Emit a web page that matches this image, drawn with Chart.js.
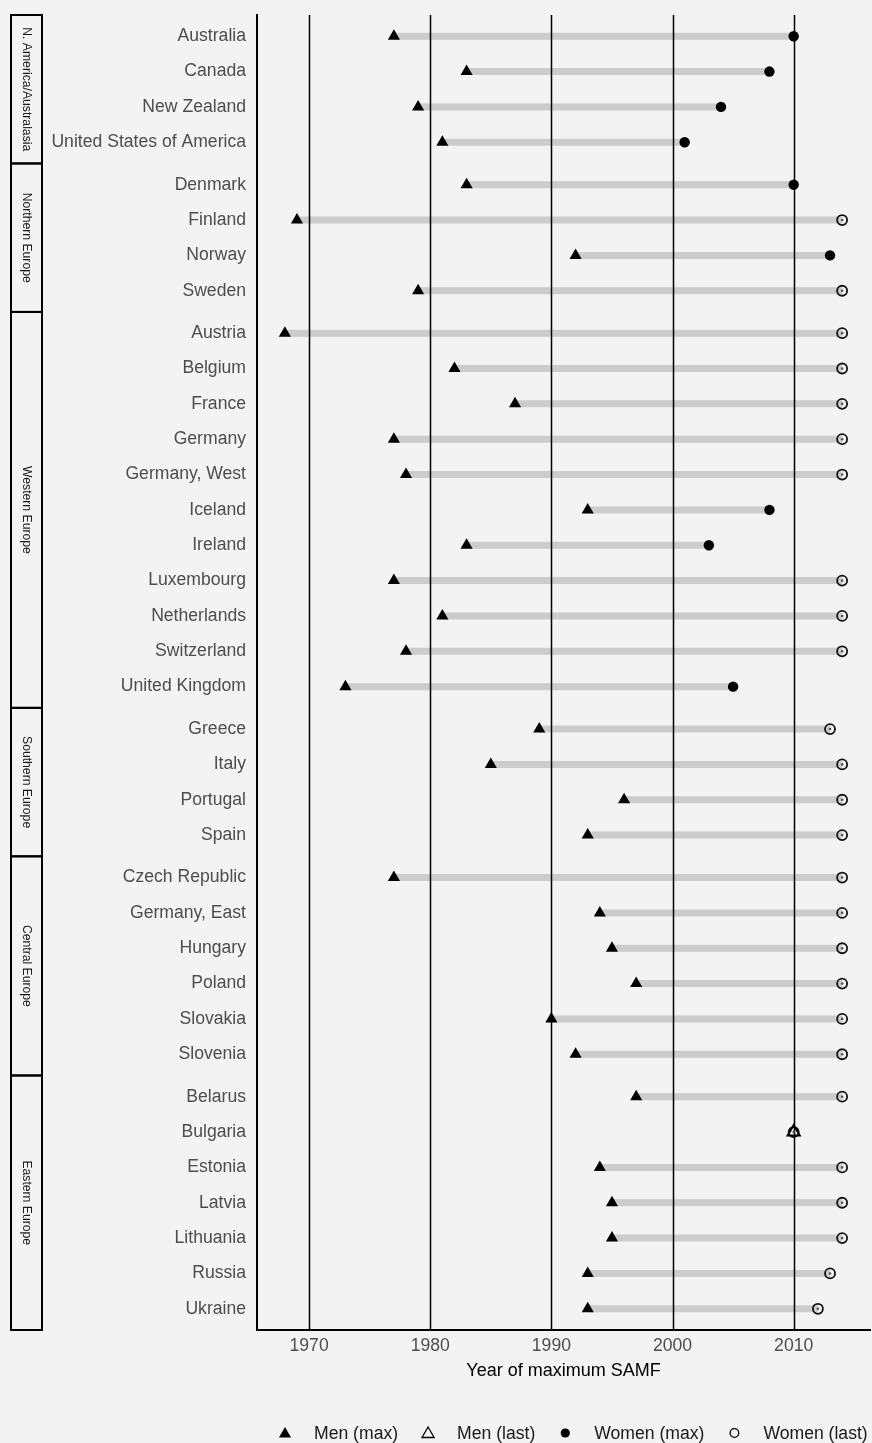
<!DOCTYPE html>
<html>
<head>
<meta charset="utf-8">
<title>Year of maximum SAMF</title>
<script src="https://cdn.jsdelivr.net/npm/chart.js@4.4.0/dist/chart.umd.min.js"></script>
<style>
  html, body { margin: 0; padding: 0; background: #f3f3f3; }
  #wrap { width: 872px; height: 1443px; }
</style>
</head>
<body>
<div id="wrap"><canvas id="samfChart" width="872" height="1443"></canvas></div>
<script>
// Regions and how many countries each one holds (in order)
const regions = ['N. America/Australasia', 'Northern Europe', 'Western Europe', 'Southern Europe', 'Central Europe', 'Eastern Europe'];
const regionSizes = [4, 4, 11, 4, 6, 7];

const countries = [
  'Australia', 'Canada', 'New Zealand', 'United States of America',
  'Denmark', 'Finland', 'Norway', 'Sweden',
  'Austria', 'Belgium', 'France', 'Germany', 'Germany, West', 'Iceland', 'Ireland',
  'Luxembourg', 'Netherlands', 'Switzerland', 'United Kingdom',
  'Greece', 'Italy', 'Portugal', 'Spain',
  'Czech Republic', 'Germany, East', 'Hungary', 'Poland', 'Slovakia', 'Slovenia',
  'Belarus', 'Bulgaria', 'Estonia', 'Latvia', 'Lithuania', 'Russia', 'Ukraine'
];

// Year values per country (null = not applicable)
const menMax = [
  1977, 1983, 1979, 1981,
  1983, 1969, 1992, 1979,
  1968, 1982, 1987, 1977, 1978, 1993, 1983, 1977, 1981, 1978, 1973,
  1989, 1985, 1996, 1993,
  1977, 1994, 1995, 1997, 1990, 1992,
  1997, null, 1994, 1995, 1995, 1993, 1993
];
const menLast = [
  null, null, null, null,
  null, null, null, null,
  null, null, null, null, null, null, null, null, null, null, null,
  null, null, null, null,
  null, null, null, null, null, null,
  null, 2010, null, null, null, null, null
];
const womenMax = [
  2010, 2008, 2004, 2001,
  2010, null, 2013, null,
  null, null, null, null, null, 2008, 2003, null, null, null, 2005,
  null, null, null, null,
  null, null, null, null, null, null,
  null, null, null, null, null, null, null
];
const womenLast = [
  null, null, null, null,
  null, 2014, null, 2014,
  2014, 2014, 2014, 2014, 2014, null, null, 2014, 2014, 2014, null,
  2013, 2014, 2014, 2014,
  2014, 2014, 2014, 2014, 2014, 2014,
  2014, 2010, 2014, 2014, 2014, 2013, 2012
];

const tickYears = [1970, 1980, 1990, 2000, 2010];

// Row positions: one unit per country, 0.6 units of padding at each region edge
const rowY = [];
const regionBounds = [];
let cursor = 0;
regionSizes.forEach(n => {
  for (let i = 0; i < n; i++) rowY.push(cursor + 0.6 + i);
  regionBounds.push([cursor, cursor + n + 0.2]);
  cursor += n + 0.2;
});
const yMax = cursor;

const FONT = "'Liberation Sans', Arial, sans-serif";

function toPoints(values) {
  return values
    .map((v, i) => (v == null ? null : { x: v, y: rowY[i] }))
    .filter(Boolean);
}

// Grey connector from the men's year to the women's year
const segData = [];
countries.forEach((c, i) => {
  const from = menMax[i] ?? menLast[i];
  const to = womenMax[i] ?? womenLast[i];
  if (from == null || to == null) return;
  segData.push({ x: from, y: rowY[i] }, { x: to, y: rowY[i] }, { x: null, y: null });
});

const datasets = [
  { label: 'Men (max)', data: toPoints(menMax), pointStyle: 'triangle', pointRadius: 7,
    backgroundColor: '#000', borderWidth: 0 },
  { label: 'Men (last)', data: toPoints(menLast), pointStyle: 'triangle', pointRadius: 7,
    backgroundColor: 'rgba(0,0,0,0)', borderColor: '#000', borderWidth: 2 },
  { label: 'Women (max)', data: toPoints(womenMax), pointStyle: 'circle', pointRadius: 5.2,
    backgroundColor: '#000', borderWidth: 0 },
  { label: 'Women (last)', data: toPoints(womenLast), pointStyle: 'circle', pointRadius: 5,
    backgroundColor: 'rgba(0,0,0,0)', borderColor: '#111', borderWidth: 1.8 },
  { label: 'centre', data: toPoints(womenLast), pointStyle: 'circle', pointRadius: 1.3,
    backgroundColor: '#555', borderWidth: 0 },
  { label: 'segments', data: segData, showLine: true, spanGaps: false, pointRadius: 0,
    borderColor: '#cccccc', borderWidth: 7, borderCapStyle: 'butt' }
];
const SEG_INDEX = datasets.length - 1;

// Vertical reference lines sit above the grey bars but below the markers
const yearLines = {
  id: 'yearLines',
  afterDatasetDraw(chart, args) {
    if (args.index !== SEG_INDEX) return;
    const { ctx, chartArea, scales } = chart;
    ctx.save();
    ctx.strokeStyle = '#000';
    ctx.lineWidth = 1.5;
    scales.x.ticks.forEach(t => {
      const px = Math.round(scales.x.getPixelForValue(t.value)) + 0.5;
      ctx.beginPath();
      ctx.moveTo(px, chartArea.top);
      ctx.lineTo(px, chartArea.bottom);
      ctx.stroke();
    });
    ctx.restore();
  }
};

// Region strips on the far left
const regionStrips = {
  id: 'regionStrips',
  afterDraw(chart) {
    const { ctx, scales } = chart;
    ctx.save();
    regions.forEach((name, r) => {
      const top = scales.y.getPixelForValue(regionBounds[r][0]);
      const bottom = scales.y.getPixelForValue(regionBounds[r][1]);
      ctx.strokeStyle = '#000';
      ctx.lineWidth = 2;
      ctx.strokeRect(11, top, 31, bottom - top);
      ctx.translate(26, (top + bottom) / 2);
      ctx.rotate(Math.PI / 2);
      ctx.fillStyle = '#1a1a1a';
      ctx.font = '12.2px ' + FONT;
      ctx.textAlign = 'center';
      ctx.textBaseline = 'middle';
      ctx.fillText(name, 0, 0);
      ctx.setTransform(1, 0, 0, 1, 0, 0);
    });
    ctx.restore();
  }
};

function drawMarker(ctx, style, x, y, r, filled, lw) {
  ctx.beginPath();
  if (style === 'triangle') {
    ctx.moveTo(x, y - r);
    ctx.lineTo(x + r * Math.sin(Math.PI / 3), y + r / 2);
    ctx.lineTo(x - r * Math.sin(Math.PI / 3), y + r / 2);
    ctx.closePath();
  } else {
    ctx.arc(x, y, r, 0, Math.PI * 2);
  }
  if (filled) {
    ctx.fillStyle = '#000';
    ctx.fill();
  } else {
    ctx.strokeStyle = '#000';
    ctx.lineWidth = lw;
    ctx.stroke();
  }
}

// Legend row under the x-axis title
const bottomLegend = {
  id: 'bottomLegend',
  afterDraw(chart) {
    const { ctx, chartArea } = chart;
    const items = [
      { text: datasets[0].label, style: 'triangle', r: 7, filled: true },
      { text: datasets[1].label, style: 'triangle', r: 7, filled: false },
      { text: datasets[2].label, style: 'circle', r: 4.6, filled: true },
      { text: datasets[3].label, style: 'circle', r: 4.3, filled: false }
    ];
    ctx.save();
    ctx.font = '17.6px ' + FONT;
    ctx.textBaseline = 'middle';
    ctx.textAlign = 'left';
    let x = chartArea.left + 28;
    const y = 1433;
    items.forEach(it => {
      drawMarker(ctx, it.style, x, it.style === 'triangle' ? y + 1 : y, it.r, it.filled, 1.3);
      ctx.fillStyle = '#1a1a1a';
      ctx.fillText(it.text, x + 29, y + 1);
      x += 29 + ctx.measureText(it.text).width + 30;
    });
    ctx.restore();
  }
};

new Chart(document.getElementById('samfChart'), {
  type: 'scatter',
  data: { datasets },
  options: {
    responsive: false,
    animation: false,
    events: [],
    layout: { autoPadding: false, padding: { top: 15, right: 2, left: 0, bottom: 0 } },
    plugins: {
      legend: { display: false },
      tooltip: { enabled: false }
    },
    scales: {
      x: {
        type: 'linear',
        min: 1965.7,
        max: 2016.3,
        afterBuildTicks: scale => { scale.ticks = tickYears.map(v => ({ value: v })); },
        afterFit: scale => {
          scale.height = 113;
          scale.paddingLeft = 0;
          scale.paddingRight = 0;
        },
        grid: { display: false, drawTicks: false },
        border: { display: true, color: '#000', width: 2 },
        ticks: {
          padding: 6,
          color: '#4d4d4d',
          font: { family: FONT, size: 17.6 },
          callback: v => String(v)
        },
        title: {
          display: true,
          text: 'Year of maximum SAMF',
          color: '#000',
          font: { family: FONT, size: 18 },
          padding: { top: 4, bottom: 61 }
        }
      },
      y: {
        type: 'linear',
        reverse: true,
        min: 0,
        max: yMax,
        afterBuildTicks: scale => { scale.ticks = rowY.map(v => ({ value: v })); },
        afterFit: scale => {
          scale.width = 257;
          scale.paddingTop = 0;
          scale.paddingBottom = 0;
        },
        grid: { display: false, drawTicks: false },
        border: { display: true, color: '#000', width: 2 },
        ticks: {
          autoSkip: false,
          padding: 11,
          color: '#4d4d4d',
          font: { family: FONT, size: 17.6 },
          callback: (v, i) => countries[i]
        }
      }
    }
  },
  plugins: [yearLines, regionStrips, bottomLegend]
});
</script>
</body>
</html>
